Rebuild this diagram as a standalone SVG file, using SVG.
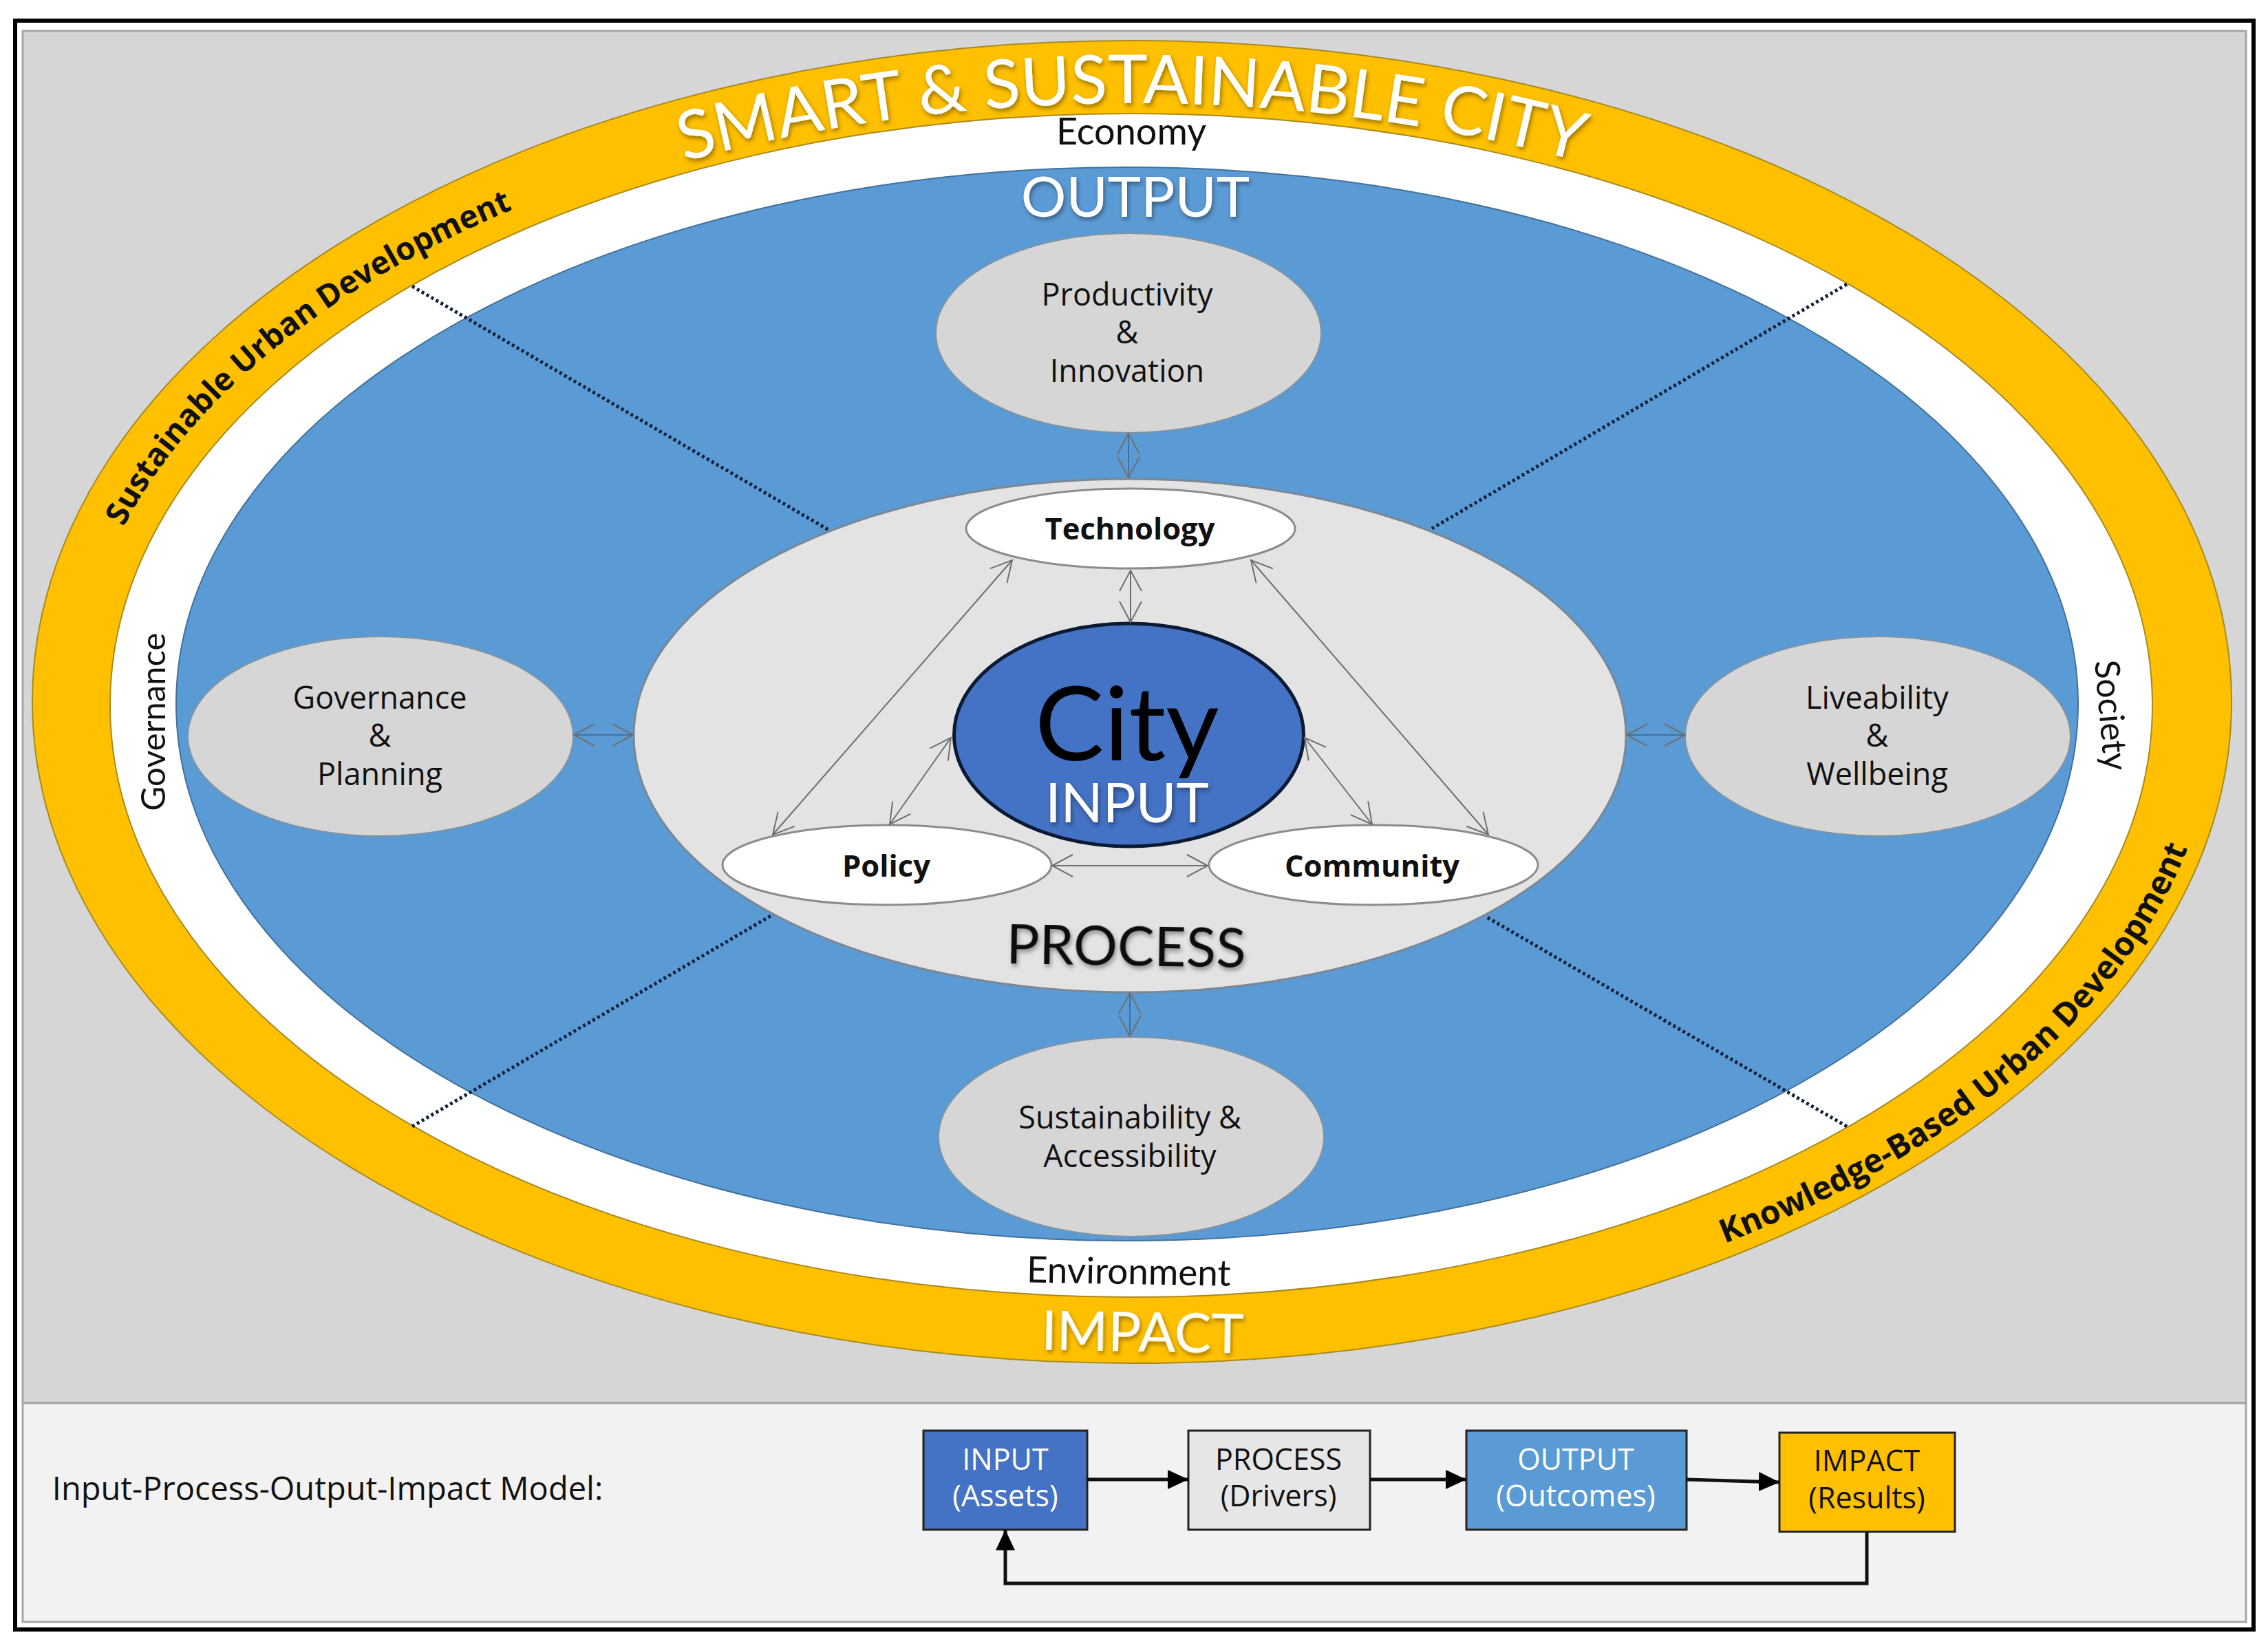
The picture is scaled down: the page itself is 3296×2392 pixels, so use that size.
<svg xmlns="http://www.w3.org/2000/svg" width="3296" height="2392" viewBox="0 0 3296 2392">
<style>
text{font-family:"Open Sans","Noto Sans",sans-serif;text-anchor:middle;fill:#111}
.cal{font-family:Lato,"Liberation Sans",sans-serif}
.w{fill:#fff}
.b{font-weight:700}
.n{font-size:45px}
.t{font-size:43px}
.node{fill:#d6d6d6;stroke:#7f93a3;stroke-width:2}
.sub{fill:#fff;stroke:#8c8c8c;stroke-width:3}
.thin{fill:none;stroke:#6f6f6f;stroke-width:2;marker-start:url(#open);marker-end:url(#open)}
.blue{stroke:#41719c}
.dot{fill:none;stroke:#10213a;stroke-width:5;stroke-dasharray:4 4}
.flow{fill:none;stroke:#111;stroke-width:5;marker-end:url(#solid)}
.box{stroke:#222;stroke-width:3}
</style>
<defs>
<marker id="open" markerUnits="userSpaceOnUse" markerWidth="40" markerHeight="40" refX="36" refY="20" orient="auto-start-reverse"><path d="M6 4L36 20L6 36" fill="none" stroke="#6f6f6f" stroke-width="2"/></marker>
<marker id="solid" markerUnits="userSpaceOnUse" markerWidth="32" markerHeight="30" refX="30" refY="15" orient="auto"><path d="M0 1L30 15L0 29Z" fill="#000"/></marker>
<filter id="sh" x="-10%" y="-20%" width="120%" height="150%"><feDropShadow dx="2" dy="4" stdDeviation="3" flood-color="#000" flood-opacity=".4"/></filter>
<path id="arcTitle" d="M135 1020A1510 870 0 0 1 3155 1020"/>
<path id="arcLeft" d="M115 1020A1530 885 0 0 1 1645 135"/>
<path id="arcRight" d="M1645 1960A1575 940 0 0 0 3220 1020"/>
</defs>
<rect x="0" y="0" width="3296" height="2392" fill="#fff"/>
<g id="frame">
<rect x="22" y="30" width="3253" height="2338" fill="#fff" stroke="#000" stroke-width="6"/>
<rect x="33" y="45" width="3231" height="1994" fill="#d6d6d6" stroke="#a6a6a6" stroke-width="3"/>
<rect x="33" y="2039" width="3231" height="318" fill="#f2f2f2" stroke="#a6a6a6" stroke-width="3"/>
</g>
<g id="ring-impact">
<ellipse cx="1645" cy="1020" rx="1598" ry="961" fill="#ffc000" stroke="#a98a20" stroke-width="2"/>
<text class="cal w" font-size="98" filter="url(#sh)"><textPath href="#arcTitle" startOffset="50%">SMART &amp; SUSTAINABLE CITY</textPath></text>
<text class="b" font-size="46"><textPath href="#arcLeft" startOffset="33%">Sustainable Urban Development</textPath></text>
<text class="b" font-size="47.5"><textPath href="#arcRight" startOffset="66.5%">Knowledge-Based Urban Development</textPath></text>
<text class="cal w" font-size="80" x="1660" y="1964" filter="url(#sh)" transform="rotate(1 1660 1964)">IMPACT</text>
</g>
<g id="ring-pillars">
<ellipse cx="1644" cy="1025" rx="1484" ry="860" fill="#fff" stroke="#a98a20" stroke-width="2"/>
<text class="cal" font-size="54" x="1644" y="210">Economy</text>
<text class="cal" font-size="53" x="1640" y="1866" transform="rotate(1 1640 1866)">Environment</text>
<text class="cal" font-size="49" x="240" y="1049" transform="rotate(-90 240 1049)">Governance</text>
<text class="cal" font-size="50" x="3051" y="1041" transform="rotate(85 3051 1041)">Society</text>
</g>
<g id="output">
<ellipse cx="1638" cy="1023" rx="1382" ry="780" fill="#5b9bd5" stroke="#41719c" stroke-width="2"/>
<text class="cal w" font-size="82" x="1650" y="315" filter="url(#sh)">OUTPUT</text>
</g>
<g id="connectors">
<path class="dot" d="M599 416L1204 770"/>
<path class="dot" d="M2684 413L2081 768"/>
<path class="dot" d="M599 1637L1125 1328"/>
<path class="dot" d="M2684 1637L2161 1333"/>
</g>
<g id="process">
<ellipse cx="1642" cy="1069" rx="721" ry="373" fill="#e4e3e3" stroke="#7a8794" stroke-width="3"/>
<text class="cal" font-size="80" x="1636" y="1403" filter="url(#sh)" transform="rotate(1 1636 1403)">PROCESS</text>
</g>
<g id="node-productivity"><ellipse class="node" cx="1640" cy="484" rx="280" ry="145"/>
<text class="n" x="1638" y="444">Productivity</text><text class="n" x="1638" y="499">&amp;</text><text class="n" x="1638" y="555">Innovation</text></g>
<g id="node-governance"><ellipse class="node" cx="553" cy="1070" rx="280" ry="145"/>
<text class="n" x="552" y="1030">Governance</text><text class="n" x="552" y="1085">&amp;</text><text class="n" x="552" y="1141">Planning</text></g>
<g id="node-liveability"><ellipse class="node" cx="2729" cy="1070" rx="280" ry="145"/>
<text class="n" x="2728" y="1030">Liveability</text><text class="n" x="2728" y="1085">&amp;</text><text class="n" x="2728" y="1141">Wellbeing</text></g>
<g id="node-sustainability"><ellipse class="node" cx="1644" cy="1652" rx="280" ry="145"/>
<text class="n" x="1642" y="1640">Sustainability &amp;</text><text class="n" x="1642" y="1696">Accessibility</text></g>
<g id="node-city"><ellipse cx="1640.5" cy="1068" rx="254" ry="162" fill="#4472c4" stroke="#0b1a33" stroke-width="5"/>
<text class="cal" font-size="150" x="1638" y="1105" style="fill:#000">City</text>
<text class="cal w" font-size="80" x="1638" y="1195" filter="url(#sh)">INPUT</text></g>
<g id="node-technology"><ellipse class="sub" cx="1643" cy="768" rx="239" ry="58"/><text class="b" font-size="43.5" x="1642" y="784">Technology</text></g>
<g id="node-policy"><ellipse class="sub" cx="1289" cy="1257" rx="239" ry="58"/><text class="b" font-size="43.5" x="1288" y="1274">Policy</text></g>
<g id="node-community"><ellipse class="sub" cx="1996" cy="1257" rx="239" ry="58"/><text class="b" font-size="43.5" x="1994" y="1274">Community</text></g>
<g id="arrows">
<path class="thin" d="M1471 814L1123 1213"/>
<path class="thin" d="M1818 814L2163 1213"/>
<path class="thin" d="M1643 829V904"/>
<path class="thin" d="M1382 1072L1293 1198"/>
<path class="thin" d="M1896 1072L1994 1198"/>
<path class="thin" d="M1529 1258H1755"/>
<path class="thin blue" d="M1640 630V694"/>
<path class="thin blue" d="M1642 1443V1506"/>
<path class="thin blue" d="M834 1068H920"/>
<path class="thin blue" d="M2364 1068H2449"/>
</g>
<text font-size="47" x="476" y="2180">Input-Process-Output-Impact Model:</text>
<g id="box-input"><rect class="box" x="1342" y="2079" width="238" height="144" fill="#4472c4"/><text class="w t" x="1461" y="2136">INPUT</text><text class="w t" x="1461" y="2189">(Assets)</text></g>
<g id="box-process"><rect class="box" x="1727" y="2079" width="264" height="144" fill="#e7e6e6"/><text class="t" x="1858" y="2136">PROCESS</text><text class="t" x="1858" y="2189">(Drivers)</text></g>
<g id="box-output"><rect class="box" x="2131" y="2079" width="320" height="144" fill="#5b9bd5"/><text class="w t" x="2290" y="2136">OUTPUT</text><text class="w t" x="2290" y="2189">(Outcomes)</text></g>
<g id="box-impact"><rect class="box" x="2586" y="2082" width="255" height="144" fill="#ffc000"/><text class="t" x="2713" y="2138">IMPACT</text><text class="t" x="2713" y="2192">(Results)</text></g>
<g id="flows">
<path class="flow" d="M1580 2150H1727"/>
<path class="flow" d="M1991 2150H2131"/>
<path class="flow" d="M2451 2150L2586 2154"/>
<path class="flow" d="M2713 2226V2301H1461V2223"/>
</g>
</svg>
